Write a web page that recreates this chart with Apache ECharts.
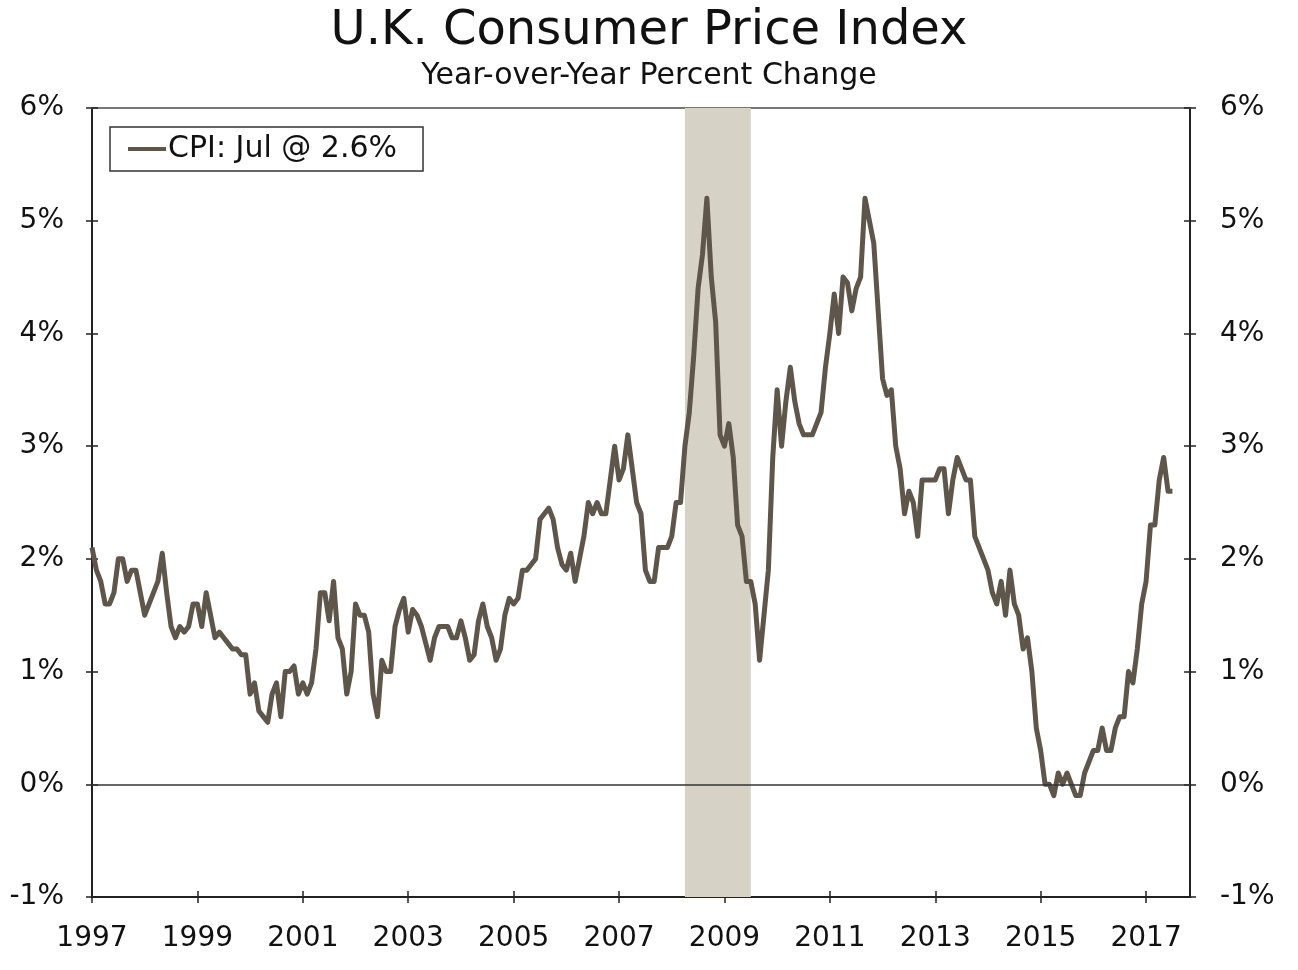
<!DOCTYPE html>
<html><head><meta charset="utf-8">
<script src="https://cdn.jsdelivr.net/npm/echarts@6/dist/echarts.min.js"></script>
<style>html,body{margin:0;padding:0;background:#fff}#c{width:1298px;height:970px}</style>
</head><body><div id="c"></div>
<script>
const titleText = 'U.K. Consumer Price Index';
const subtitleText = 'Year-over-Year Percent Change';
const seriesName = 'CPI: Jul @ 2.6%';
const startYear = 1997;              // first observation: Jan 1997
const yearLabels = [1997,1999,2001,2003,2005,2007,2009,2011,2013,2015,2017];
const yTicks = [-1,0,1,2,3,4,5,6];
const recessionStart = [2008, 4];    // year, month
const recessionEnd = [2009, 7];
// monthly year-over-year % change, Jan 1997 .. Jul 2017
const cpi = [
  2.1,1.9,1.8,1.6,1.6,1.7,2.0,2.0,1.8,1.9,1.9,1.7,
  1.5,1.6,1.7,1.8,2.05,1.7,1.4,1.3,1.4,1.35,1.4,1.6,
  1.6,1.4,1.7,1.5,1.3,1.35,1.3,1.25,1.2,1.2,1.15,1.15,
  0.8,0.9,0.65,0.6,0.55,0.8,0.9,0.6,1.0,1.0,1.05,0.8,
  0.9,0.8,0.9,1.2,1.7,1.7,1.45,1.8,1.3,1.2,0.8,1.0,
  1.6,1.5,1.5,1.35,0.8,0.6,1.1,1.0,1.0,1.4,1.55,1.65,
  1.35,1.55,1.5,1.4,1.25,1.1,1.3,1.4,1.4,1.4,1.3,1.3,
  1.45,1.3,1.1,1.15,1.45,1.6,1.4,1.3,1.1,1.2,1.5,1.65,
  1.6,1.65,1.9,1.9,1.95,2.0,2.35,2.4,2.45,2.35,2.1,1.95,
  1.9,2.05,1.8,2.0,2.2,2.5,2.4,2.5,2.4,2.4,2.7,3.0,
  2.7,2.8,3.1,2.8,2.5,2.4,1.9,1.8,1.8,2.1,2.1,2.1,
  2.2,2.5,2.5,3.0,3.3,3.8,4.4,4.7,5.2,4.5,4.1,3.1,
  3.0,3.2,2.9,2.3,2.2,1.8,1.8,1.6,1.1,1.5,1.9,2.9,
  3.5,3.0,3.4,3.7,3.4,3.2,3.1,3.1,3.1,3.2,3.3,3.7,
  4.0,4.35,4.0,4.5,4.45,4.2,4.4,4.5,5.2,5.0,4.8,4.2,
  3.6,3.45,3.5,3.0,2.8,2.4,2.6,2.5,2.2,2.7,2.7,2.7,
  2.7,2.8,2.8,2.4,2.7,2.9,2.8,2.7,2.7,2.2,2.1,2.0,
  1.9,1.7,1.6,1.8,1.5,1.9,1.6,1.5,1.2,1.3,1.0,0.5,
  0.3,0.0,0.0,-0.1,0.1,0.0,0.1,0.0,-0.1,-0.1,0.1,0.2,
  0.3,0.3,0.5,0.3,0.3,0.5,0.6,0.6,1.0,0.9,1.2,1.6,
  1.8,2.3,2.3,2.7,2.9,2.6,2.6
];

const monthIdx = (y, m) => (y - startYear) * 12 + (m - 1);
const data = cpi.map((v, i) => [i, v]);
const FONT = 'DejaVu Sans';
const axisColor = '#222';
const lbl = {fontFamily: FONT, fontSize: 28, color: '#111'};

const xBase = {type:'value', min:0, max:250, interval:24, splitLine:{show:false}, gridIndex:0};
const yBase = {type:'value', min:yTicks[0], max:yTicks[yTicks.length-1], interval:1, splitLine:{show:false}};

const chart = echarts.init(document.getElementById('c'), null, {renderer:'canvas'});
chart.setOption({
  backgroundColor:'#fff',
  animation:false,
  title:[
    {text:titleText, left:'center', top:3, textStyle:{fontFamily:FONT, fontSize:48, fontWeight:'normal', color:'#111'}},
    {text:subtitleText, left:'center', top:56, textStyle:{fontFamily:FONT, fontSize:30, fontWeight:'normal', color:'#111'}}
  ],
  legend:{
    left:110, top:127, orient:'horizontal',
    data:[seriesName],
    icon:'rect', itemWidth:38, itemHeight:4, itemGap:4,
    borderColor:'#333', borderWidth:1.5, padding:[7,26,7,18],
    textStyle:{fontFamily:FONT, fontSize:30, color:'#111', padding:[0,0,0,-3]}
  },
  grid:{left:92, right:108, top:108, bottom:73, containLabel:false},
  xAxis:[
    Object.assign({}, xBase, {position:'bottom',
      axisLine:{show:true, onZero:false, lineStyle:{color:axisColor, width:2}},
      axisTick:{show:true, inside:false, length:6, lineStyle:{color:axisColor, width:1.5}},
      axisLabel:Object.assign({}, lbl, {margin:28, showMaxLabel:false,
        formatter:v => (v % 24 === 0 ? String(startYear + v/12) : '')})}),
    Object.assign({}, xBase, {position:'bottom', offset:0,
      axisLine:{show:false, onZero:false},
      axisTick:{show:true, inside:true, length:6, lineStyle:{color:axisColor, width:1.5}},
      axisLabel:{show:false}}),
    Object.assign({}, xBase, {position:'top',
      axisLine:{show:true, onZero:false, lineStyle:{color:'#777', width:2}},
      axisTick:{show:false}, axisLabel:{show:false}})
  ],
  yAxis:[
    Object.assign({}, yBase, {position:'left',
      axisLine:{show:true, onZero:false, lineStyle:{color:axisColor, width:2}},
      axisTick:{show:true, inside:false, length:6, lineStyle:{color:axisColor, width:1.5}},
      axisLabel:Object.assign({}, lbl, {margin:28, formatter:v => v + '%'})}),
    Object.assign({}, yBase, {position:'left', offset:0,
      axisLine:{show:false, onZero:false},
      axisTick:{show:true, inside:true, length:6, lineStyle:{color:axisColor, width:1.5}},
      axisLabel:{show:false}}),
    Object.assign({}, yBase, {position:'right',
      axisLine:{show:true, onZero:false, lineStyle:{color:axisColor, width:2}},
      axisTick:{show:true, inside:false, length:6, lineStyle:{color:axisColor, width:1.5}},
      axisLabel:Object.assign({}, lbl, {margin:30, formatter:v => v + '%'})}),
    Object.assign({}, yBase, {position:'right', offset:0,
      axisLine:{show:false, onZero:false},
      axisTick:{show:true, inside:true, length:6, lineStyle:{color:axisColor, width:1.5}},
      axisLabel:{show:false}})
  ],
  series:[{
    name:seriesName, type:'line', xAxisIndex:0, yAxisIndex:0,
    data:data, showSymbol:false, symbol:'none',
    lineStyle:{color:'#5e554b', width:5, join:'round'},
    itemStyle:{color:'#5e554b'},
    markArea:{silent:true, itemStyle:{color:'#d7d2c6'},
      data:[[{xAxis:monthIdx(recessionStart[0], recessionStart[1])},
             {xAxis:monthIdx(recessionEnd[0], recessionEnd[1])}]]},
    markLine:{silent:true, symbol:'none', label:{show:false},
      lineStyle:{color:'#333', width:1.5, type:'solid'},
      data:[{yAxis:0}]},
    z:3
  }]
});
</script></body></html>
